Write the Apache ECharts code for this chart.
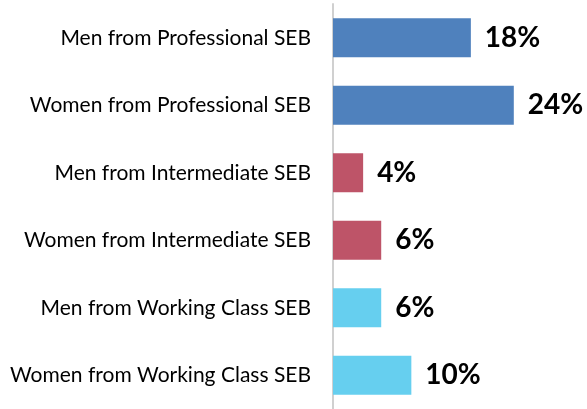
<!DOCTYPE html>
<html><head><meta charset="utf-8">
<script src="https://cdn.jsdelivr.net/npm/echarts@6/dist/echarts.min.js"></script>
<style>html,body{margin:0;padding:0;background:#fff}#c{width:587px;height:409px}</style>
</head><body><div id="c"></div>
<script>
const categories = ["Men from Professional SEB","Women from Professional SEB","Men from Intermediate SEB","Women from Intermediate SEB","Men from Working Class SEB","Women from Working Class SEB"];
const values = [18.3, 24.0, 4.0, 6.4, 6.4, 10.4];
const valueLabels = ["18%","24%","4%","6%","6%","10%"];
const barColors = ["#4F81BD","#4F81BD","#BE5468","#BE5468","#66CFEF","#66CFEF"];

const chart = echarts.init(document.getElementById('c'), null, {renderer:'canvas'});
chart.setOption({
  animation:false,
  grid:{left:333, top:4, width:226, height:410, containLabel:false},
  xAxis:{type:'value', min:0, max:30, show:false},
  yAxis:{type:'category', data:categories, inverse:true,
    axisLine:{show:true, lineStyle:{color:'#D0D0D0', width:2}},
    axisTick:{show:false},
    axisLabel:{color:'#000', fontFamily:'Lato', fontSize:21, margin:22}},
  series:[{type:'bar', barCategoryGap:'42%',
    data: values.map((v,i)=>({value:v, itemStyle:{color:barColors[i]}})),
    label:{show:true, position:'right', distance:14, color:'#000', fontFamily:'Lato', fontWeight:'bold', fontSize:28,
      formatter:(p)=>valueLabels[p.dataIndex]}}]
});
</script></body></html>
